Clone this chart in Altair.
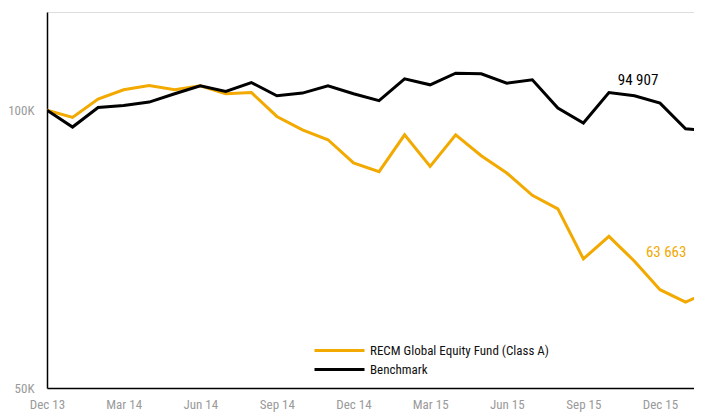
import altair as alt
import pandas as pd

months = ["Dec 13", "Jan 14", "Feb 14", "Mar 14", "Apr 14", "May 14", "Jun 14",
          "Jul 14", "Aug 14", "Sep 14", "Oct 14", "Nov 14", "Dec 14",
          "Jan 15", "Feb 15", "Mar 15", "Apr 15", "May 15", "Jun 15",
          "Jul 15", "Aug 15", "Sep 15", "Oct 15", "Nov 15", "Dec 15",
          "Jan 16", "Feb 16"]

fund_name = "RECM Global Equity Fund (Class A)"
bench_name = "Benchmark"

fund = [100000, 98220, 102830, 105240, 106380, 105240, 106300, 104200, 104540,
        98470, 95250, 92910, 87680, 85790, 94070, 86940, 94070, 89280, 85510,
        80870, 78180, 69010, 73000, 68600, 63900, 61970, 63663]
bench = [100000, 95900, 100700, 101200, 102070, 104200, 106300, 104800, 107170,
         103680, 104380, 106300, 104200, 102450, 108170, 106560, 109710, 109520,
         107010, 107900, 100550, 96860, 104540, 103680, 101810, 95490, 94907]

ann_labels = ["94 907", "63 663"]
ann_series = [bench_name, fund_name]
ann_x = [23.14, 24.24]
ann_y = [107900, 70260]

gold = "#F2A900"
black = "#000000"
gray = "#9a9a9a"
FONT = "Liberation Sans Narrow, Roboto Condensed, DejaVu Sans Condensed, Liberation Sans, sans-serif"

fund_df = pd.DataFrame({"idx": range(len(months)), "month": months,
                        "series": fund_name, "value": fund})
bench_df = pd.DataFrame({"idx": range(len(months)), "month": months,
                         "series": bench_name, "value": bench})
ann_df = pd.DataFrame({"label": ann_labels, "series": ann_series,
                       "x": ann_x, "y": ann_y})

label_array = "[" + ",".join(f"'{m}'" for m in months) + "]"

xscale = alt.Scale(domain=[0, 25.33], nice=False, zero=False)
yscale = alt.Scale(type="log", domain=[50000, 127800], nice=False)
cscale = alt.Scale(domain=[fund_name, bench_name], range=[gold, black])

xaxis = alt.Axis(values=list(range(0, 25, 3)), labelExpr=label_array + "[datum.value]",
                 title=None, grid=False, ticks=False, labelPadding=10,
                 labelFlush=False, labelOverlap=False,
                 domainColor="#000", domainWidth=1.5, labelColor=gray,
                 labelFontSize=13, labelFont=FONT)
yaxis = alt.Axis(values=[50000, 100000], labelExpr="format(datum.value/1000,'d') + 'K'",
                 title=None, grid=False, ticks=False, labelPadding=13,
                 labelFlush=False,
                 domainColor="#000", domainWidth=1.5, labelColor=gray,
                 labelFontSize=13, labelFont=FONT)

legend = alt.Legend(title=None, orient="none", legendX=286, legendY=332,
                    symbolType="M-5,0H5", symbolSize=100, symbolStrokeWidth=3,
                    labelFontSize=13, labelFont=FONT, labelColor="#111",
                    labelLimit=400, labelOffset=24, padding=0, rowPadding=5)

def line_layer(df):
    return alt.Chart(df).mark_line(strokeWidth=3, clip=True).encode(
        x=alt.X("idx:Q", scale=xscale, axis=xaxis),
        y=alt.Y("value:Q", scale=yscale, axis=yaxis),
        color=alt.Color("series:N", scale=cscale, legend=legend),
    )

text = alt.Chart(ann_df).mark_text(fontSize=15, font=FONT).encode(
    x=alt.X("x:Q", scale=xscale),
    y=alt.Y("y:Q", scale=yscale),
    text="label:N",
    color=alt.Color("series:N", scale=cscale, legend=None),
)

chart = alt.layer(line_layer(fund_df), line_layer(bench_df), text).properties(
    width=647, height=376,
    autosize=alt.AutoSizeParams(type="none"),
    padding={"left": 39, "top": 4, "right": 0, "bottom": 24},
).configure_view(stroke=None).configure(background="white")

chart.save("out.html", embed_options={"renderer": "svg", "actions": False})
